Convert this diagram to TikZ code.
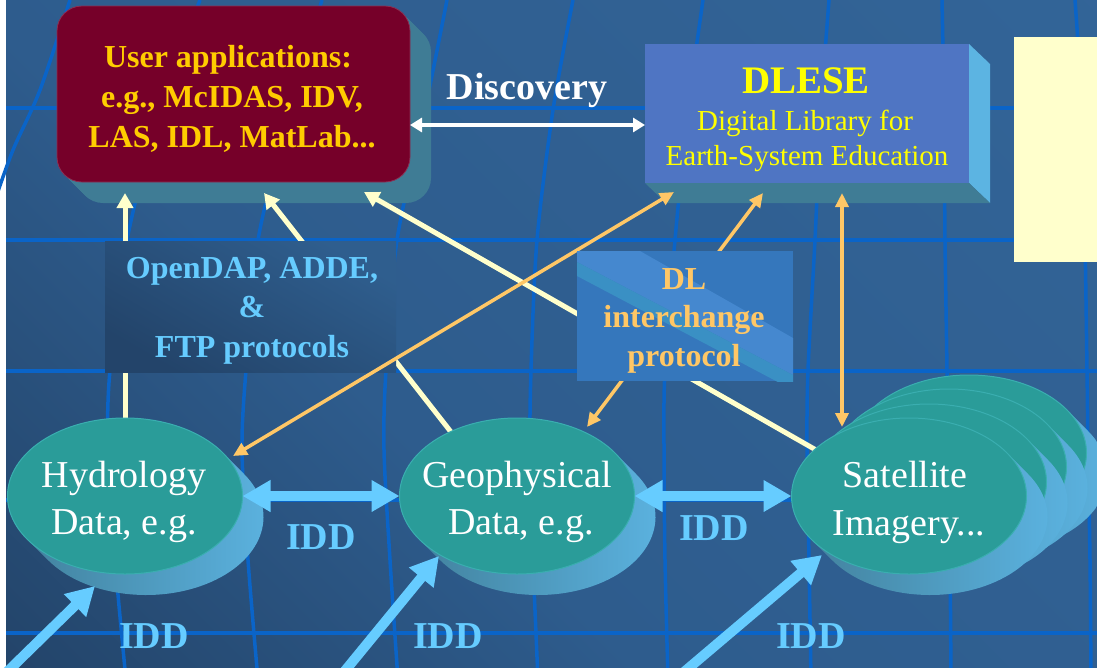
\documentclass[tikz,border=0pt]{standalone}
\usepackage{fontspec}
\setmainfont{Liberation Serif}
\usetikzlibrary{arrows.meta,shapes.geometric}
\definecolor{bgA}{HTML}{34679B}
\definecolor{bgM}{HTML}{2E5C8D}
\definecolor{bgB}{HTML}{1D3756}
\definecolor{gridc}{HTML}{0A64C8}
\definecolor{uamaroon}{HTML}{760029}
\definecolor{uaedge}{HTML}{8B2F52}
\definecolor{uagold}{HTML}{FFCC00}
\definecolor{ext1}{HTML}{3F7C95}
\definecolor{ext2}{HTML}{5CB4E2}
\definecolor{dlblue}{HTML}{4F75C3}
\definecolor{dlyel}{HTML}{FFFF00}
\definecolor{cream}{HTML}{FFFFCC}
\definecolor{orng}{HTML}{FFC766}
\definecolor{iddblue}{HTML}{66CCFF}
\definecolor{tealf}{HTML}{2A9C99}
\definecolor{tealedge}{HTML}{3AAEB0}
\definecolor{odA}{HTML}{2F5E8E}
\definecolor{odB}{HTML}{23446A}
\definecolor{dlA}{HTML}{3577BC}
\definecolor{dlB}{HTML}{4588CF}
\definecolor{dlC}{HTML}{3A90C4}
\definecolor{yelbox}{HTML}{FFFFCC}
\pgfdeclareverticalshading{bgsh}{100bp}{color(0bp)=(bgB); color(40bp)=(bgM); color(100bp)=(bgA)}
\pgfdeclarehorizontalshading{uaext}{100bp}{color(0bp)=(ext1); color(88bp)=(ext1); color(96bp)=(ext2); color(100bp)=(ext2)}
\newcommand{\extrudeell}[2]{%
  \shade[left color=ext1, right color=ext2] (#1,#2) ++(-33.6:117.5 and 78) -- ++(21,21)
    arc[start angle=-33.6, end angle=146.4, x radius=117.5, y radius=78] -- ++(-21,-21)
    arc[start angle=146.4, end angle=326.4, x radius=117.5, y radius=78] -- cycle;}
\begin{document}
\begin{tikzpicture}[x=1pt, y=-1pt,
  every node/.style={inner sep=0pt, outer sep=0pt},
  gridline/.style={draw=gridc, line width=3.5pt},
  uatxt/.style={font=\fontsize{32}{38}\selectfont\bfseries, text=uagold, anchor=base},
  odtxt/.style={font=\fontsize{32}{38}\selectfont\bfseries, text=iddblue, anchor=base},
  dltxt/.style={font=\fontsize{32}{38}\selectfont\bfseries, text=orng, anchor=base},
  elltxt/.style={font=\fontsize{38}{46}\selectfont, text=white, anchor=base},
  iddlbl/.style={font=\fontsize{38}{46}\selectfont\bfseries, text=iddblue, anchor=base},
  dataell/.style={ellipse, minimum width=235pt, minimum height=156pt, fill=tealf, draw=tealedge, line width=1pt},
  creamarrow/.style={draw=cream, line width=5pt, -{Triangle[length=15pt, width=16pt]}},
  orangearrow/.style={draw=orng, line width=3.5pt, {Triangle[length=14pt, width=13pt]}-{Triangle[length=14pt, width=13pt]}},
  iddarrow/.style={draw=iddblue, line width=10pt, -{Triangle[length=28pt, width=30pt]}},
  iddboth/.style={draw=iddblue, line width=10pt, {Triangle[length=28pt, width=30pt]}-{Triangle[length=28pt, width=30pt]}},
  discarrow/.style={draw=white, line width=3.5pt, {Triangle[length=12pt, width=14pt]}-{Triangle[length=12pt, width=14pt]}}]
\useasboundingbox (0,0) rectangle (1097,667);
\clip (0,0) rectangle (1097,667);
% background
\fill[white] (0,0) rectangle (6,667);
\shade[shading=bgsh, shading angle=-45] (6,0) rectangle (1097,667);
% grid
\foreach \yy in {108,240,371,500,633} \draw[gridline] (6,\yy) -- (1097,\yy);
\draw[gridline] plot[smooth] coordinates {(70,0) (40,90) (13,150) (-5,200)};
\draw[gridline] plot[smooth] coordinates {(200,0) (160,110) (127,240) (110,370) (108,450) (115,560) (126,680)};
\draw[gridline] plot[smooth] coordinates {(322,0) (290,110) (258,240) (246,370) (242,450) (248,560) (258,680)};
\draw[gridline] plot[smooth] coordinates {(447,0) (425,110) (397,240) (386,370) (384,450) (390,560) (398,680)};
\draw[gridline] plot[smooth] coordinates {(573,0) (553,110) (537,240) (531,370) (530,450) (533,560) (538,680)};
\draw[gridline] plot[smooth] coordinates {(703,0) (688,110) (675,240) (665,370) (664,450) (665,560) (668,680)};
\draw[gridline] plot[smooth] coordinates {(829,0) (821,110) (815,240) (808,370) (807,450) (809,560) (811,680)};
\draw[gridline] plot[smooth] coordinates {(942,0) (944,110) (945,240) (947,370) (948,450) (950,560) (951,680)};
\draw[gridline] plot[smooth] coordinates {(1075,0) (1082,110) (1085,240) (1087,370) (1088,450) (1090,560) (1091,680)};
% User applications box
\foreach \i in {1,...,21}
  \shade[shading=uaext, rounded corners=25pt] (57+\i,6+\i) rectangle (410+\i,182+\i);
\node (ua) [minimum width=353pt, minimum height=176pt, fill=uamaroon, draw=uaedge, line width=0.8pt, rounded corners=25pt] at (233.5,94) {};
\node[uatxt] (ua1) at (228,67) {User applications:};
\node[uatxt] (ua2) at (232,107) {e.g., McIDAS, IDV,};
\node[uatxt] (ua3) at (232,147) {LAS, IDL, MatLab...};
% DLESE box
\fill[ext2] (969,44) -- (990,64) -- (990,203) -- (969,183) -- cycle;
\fill[ext1] (645,183) -- (969,183) -- (990,203) -- (666,203) -- cycle;
\node (dlese) [minimum width=324pt, minimum height=139pt, fill=dlblue] at (807,113.5) {};
\node[font=\fontsize{39}{46}\selectfont\bfseries, text=dlyel, anchor=base] (dlese1) at (806,93) {DLESE};
\node[font=\fontsize{29}{35}\selectfont, text=dlyel, anchor=base] (dlese2) at (805,130) {Digital Library for};
\node[font=\fontsize{29}{35}\selectfont, text=dlyel, anchor=base] (dlese3) at (807,165) {Earth-System Education};
% yellow note
\node (note) [minimum width=86pt, minimum height=225pt, fill=yelbox] at (1057,149.5) {};
% connector end points
\coordinate (uaB1) at (125,193);
\coordinate (uaB2) at (264,193);
\coordinate (uaB3) at (364,192);
\coordinate (hydT) at (125,418);
\coordinate (geoT) at (451,432);
\coordinate (satT) at (816,450);
\coordinate (dlB1) at (674,192);
\coordinate (dlB2) at (763,193);
\coordinate (dlB3) at (842,193);
\coordinate (hydR) at (233,456);
\coordinate (geoL) at (587,427);
\coordinate (satT2) at (842,427);
\coordinate (uaR) at (410,125);
\coordinate (dlL) at (645,125);
\coordinate (in1) at (7,672);
\coordinate (in2) at (344,672);
\coordinate (in3) at (684,672);
\coordinate (hydS) at (95,586);
\coordinate (geoS) at (439,556);
\coordinate (satS) at (822,555);
% cream arrows (behind the protocol boxes)
\draw[creamarrow] (hydT) -- (uaB1);
\draw[creamarrow] (geoT) -- (uaB2);
\draw[creamarrow] (satT) -- (uaB3);
% OpenDAP box
\node (opendap) [minimum width=291pt, minimum height=131pt, top color=odA, bottom color=odB, shading angle=-30] at (250.5,306.5) {};
\node[odtxt] (od1) at (252,278) {OpenDAP, ADDE,};
\node[odtxt] (od2) at (252,317) {\&};
\node[odtxt] (od3) at (252,357) {FTP protocols};
% orange arrows
\draw[orangearrow] (hydR) -- (dlB1);
\draw[orangearrow] (geoL) -- (dlB2);
\draw[orangearrow] (satT2) -- (dlB3);
% DL interchange box
\node (dlbox) [minimum width=216pt, minimum height=130pt, fill=dlA] at (685,316) {};
\begin{scope}
\clip (577,251) rectangle (793,381);
\fill[dlB] (577,262) -- (577,251) -- (640,251) -- (793,338) -- (793,375) -- cycle;
\fill[dlC] (577,276) -- (577,262) -- (793,375) -- (793,390) -- cycle;
\end{scope}
\node[dltxt] (dl1) at (684,289) {DL};
\node[dltxt] (dl2) at (684,327) {interchange};
\node[dltxt] (dl3) at (684,366) {protocol};
% discovery
\draw[discarrow] (uaR) -- (dlL);
\node[font=\fontsize{38}{46}\selectfont\bfseries, text=white, anchor=base] (disc) at (527,99) {Discovery};
% ellipses
\extrudeell{125}{496}
\node[dataell] (hyd) at (125,496) {};
\extrudeell{517}{496}
\node[dataell] (geo) at (517,496) {};
\extrudeell{969}{453}
\node[dataell] (sat3) at (969,453) {};
\extrudeell{949}{467}
\node[dataell] (sat2) at (949,467) {};
\extrudeell{929}{482}
\node[dataell] (sat1) at (929,482) {};
\extrudeell{909}{496}
\node[dataell] (sat) at (909,496) {};
\node[elltxt] (hydt1) at (124,487) {Hydrology};
\node[elltxt] (hydt2) at (124,534) {Data, e.g.};
\node[elltxt] (geot1) at (517,487) {Geophysical};
\node[elltxt] (geot2) at (521,534) {Data, e.g.};
\node[elltxt] (satt1) at (905,487) {Satellite};
\node[elltxt] (satt2) at (909,535) {Imagery...};
% IDD arrows
\draw[iddboth] (hyd.east) -- (geo.west);
\draw[iddboth] (geo.east) -- (sat.west);
\draw[iddarrow] (in1) -- (hydS);
\draw[iddarrow] (in2) -- (geoS);
\draw[iddarrow] (in3) -- (satS);
\node[iddlbl] (idd1) at (321,549) {IDD};
\node[iddlbl] (idd2) at (714,540) {IDD};
\node[iddlbl] (idd3) at (154,648) {IDD};
\node[iddlbl] (idd4) at (448,648) {IDD};
\node[iddlbl] (idd5) at (811,648) {IDD};
\end{tikzpicture}
\end{document}
